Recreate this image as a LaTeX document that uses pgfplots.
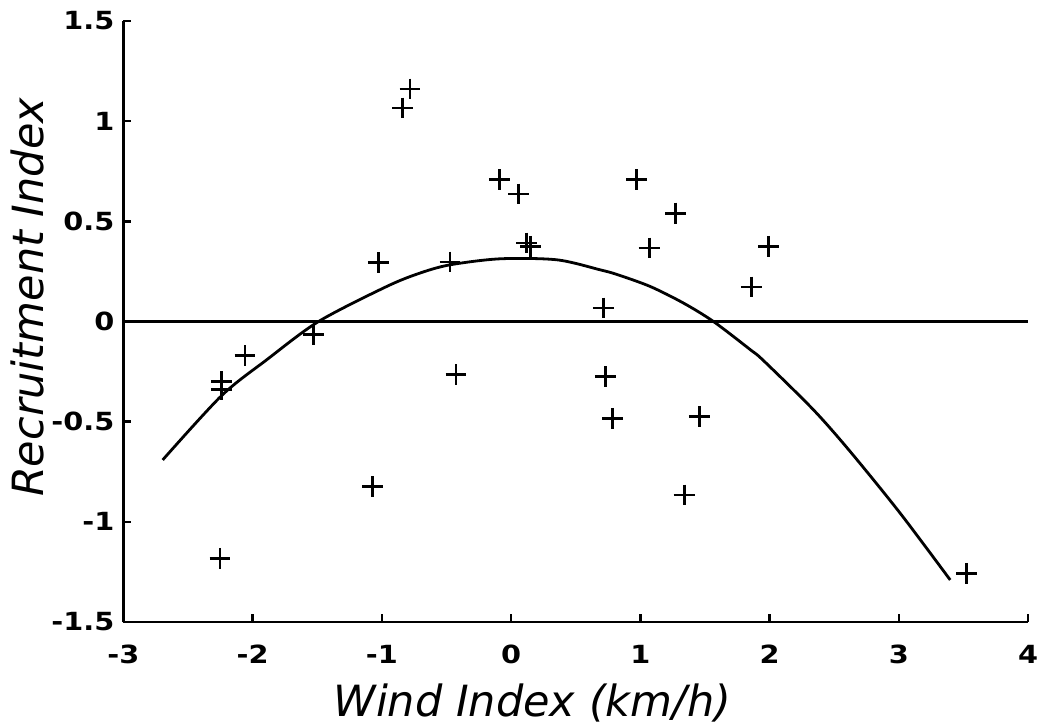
\documentclass[border=0pt]{standalone}
\usepackage{fontspec}
\setmainfont{DejaVu Sans}
\newfontfamily\tickfont[FakeStretch=1.15]{DejaVu Sans Bold}
\usepackage{pgfplots}
\pgfplotsset{compat=1.18}
\begin{document}
\begin{tikzpicture}
\useasboundingbox (0,0) rectangle (521.5pt,362.5pt);
\begin{axis}[
  at={(61.7pt,51.5pt)}, anchor=south west,
  scale only axis, width=452.3pt, height=300.5pt,
  xmin=-3, xmax=4, ymin=-1.5, ymax=1.5,
  axis x line=bottom, axis y line=left,
  axis line style={line width=1.4pt, -},
  tick align=inside, major tick length=4pt,
  tick style={line width=1.2pt, black},
  xtick={-3,-2,-1,0,1,2,3,4}, xticklabels={-3,-2,-1,0,1,2,3,4},
  ytick={-1.5,-1,-0.5,0,0.5,1,1.5}, yticklabels={-1.5,-1,-0.5,0,0.5,1,1.5},
  ticklabel style={font=\fontsize{12.5}{14}\tickfont},
  xticklabel style={yshift=-8pt},
  yticklabel style={xshift=-1pt},
  xlabel={Wind Index (km/h)},
  ylabel={Recruitment Index},
  xlabel style={at={(axis description cs:0.452,-0.135)}, anchor=center, font=\fontsize{21.5}{26}\selectfont\itshape},
  ylabel style={at={(axis description cs:-0.1066,0.54)}, anchor=center, rotate=0, font=\fontsize{21.5}{26}\selectfont\itshape},
  clip=false,
]
\addplot[black, line width=1.3pt] coordinates {(-3,0) (4,0)};
\addplot[black, line width=1.4pt, smooth] coordinates {
(-2.696,-0.691) (-2.24,-0.37) (-1.891,-0.191) (-1.49,0) (-0.962,0.175)
(-0.704,0.242) (-0.472,0.283) (-0.085,0.313) (0.354,0.308) (0.689,0.258)
(0.818,0.235) (1.076,0.175) (1.334,0.092) (1.566,0) (1.850,-0.14)
(1.953,-0.195) (2.340,-0.441) (2.624,-0.649) (3.011,-0.957) (3.398,-1.290)
};
\addplot[only marks, mark=+, mark size=5.2pt, mark options={line width=1.4pt, black}] coordinates {
(-0.782,1.161) (-0.841,1.066) (-0.091,0.708) (0.057,0.636) (0.121,0.392)
(0.152,0.375) (-1.027,0.295) (-0.472,0.297) (0.973,0.708) (1.275,0.541)
(1.068,0.367) (1.992,0.375) (1.858,0.172) (0.714,0.067) (-1.530,-0.066)
(-2.059,-0.171) (-2.239,-0.30) (-2.239,-0.341) (-1.071,-0.824) (-2.252,-1.182)
(0.728,-0.275) (0.787,-0.483) (1.457,-0.475) (1.339,-0.866) (3.527,-1.257)
(-0.426,-0.266)
};
\end{axis}
\end{tikzpicture}
\end{document}
